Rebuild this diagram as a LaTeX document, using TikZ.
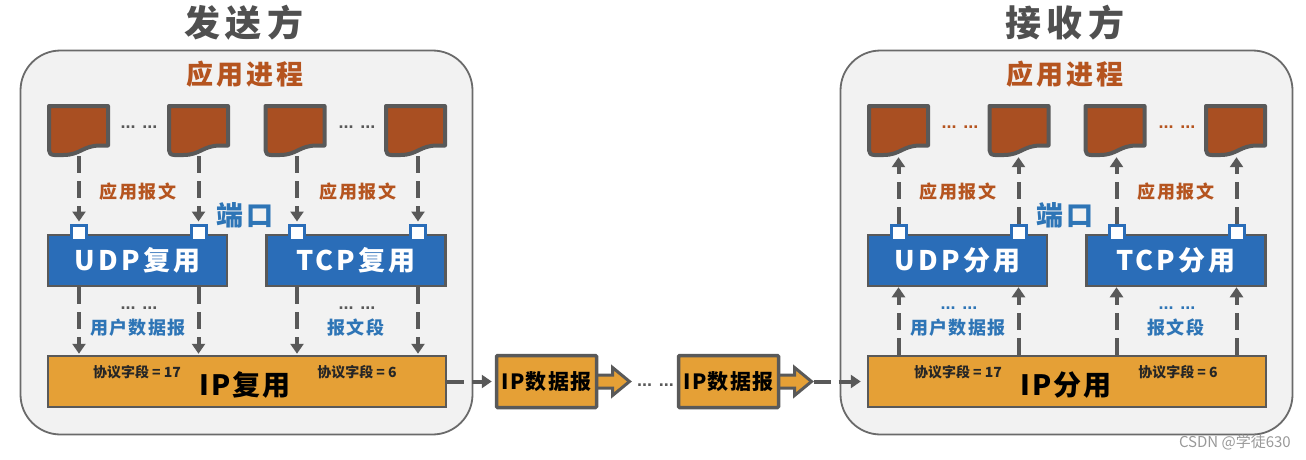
\documentclass[tikz,border=0pt]{standalone}
\usepackage{fontspec}
\usetikzlibrary{arrows.meta}
\newfontfamily\cjk{Noto Sans CJK SC}
\newfontfamily\dotsfont{Liberation Sans}
\newcommand{\txs}[2]{\cjk\bfseries\fontsize{#1}{#1}\selectfont\addfontfeature{LetterSpace=#2}}
\definecolor{panelfill}{HTML}{F2F2F2}
\definecolor{edgegray}{HTML}{6A6A6A}
\definecolor{darkedge}{HTML}{595959}
\definecolor{docfill}{HTML}{A94F22}
\definecolor{bluefill}{HTML}{2A6DB8}
\definecolor{orangefill}{HTML}{E5A036}
\definecolor{brownText}{HTML}{B5541F}
\definecolor{blueText}{HTML}{2E75B6}
\definecolor{titleText}{HTML}{505050}
\tikzset{
  panel/.style={draw=edgegray,fill=panelfill,line width=1.8pt,rounded corners=40pt,minimum width=452pt,minimum height=384pt,inner sep=0pt},
  docbox/.style={minimum width=63pt,minimum height=52pt,inner sep=0pt},
  docshape/.style={draw=darkedge,fill=docfill,line width=4pt,line join=round},
  bluebox/.style={draw=darkedge,fill=bluefill,line width=2.5pt,minimum width=179pt,minimum height=51pt,inner sep=0pt,text=white,font=\txs{27}{11.5}},
  ipbox/.style={draw=darkedge,fill=orangefill,line width=2.5pt,minimum width=398pt,minimum height=51pt,inner sep=0pt},
  portbox/.style={draw=bluefill,fill=white,line width=3pt,minimum width=15pt,minimum height=15pt,inner sep=0pt},
  pktbox/.style={draw=darkedge,fill=orangefill,line width=3.5pt,rounded corners=1pt,minimum width=100pt,minimum height=52pt,inner sep=0pt,text=black,font=\txs{21}{6}},
  pktarrow/.style={draw=darkedge,fill=orangefill,line width=3pt,line join=miter},
  conn/.style={draw=darkedge,line width=4pt,dash pattern=on 17pt off 8pt,-{Triangle[width=13pt,length=10pt]}},
  titletext/.style={text=titleText,font=\txs{36}{14}},
  proctext/.style={text=brownText,font=\txs{27}{12}},
  brownlabel/.style={text=brownText,font=\txs{18}{8}},
  bluelabel/.style={text=blueText,font=\txs{18}{8}},
  portlabel/.style={text=blueText,font=\txs{27}{8}},
  iptext/.style={text=black,font=\txs{28}{8}},
  fieldtext/.style={text=black!85,font=\txs{14}{0}},
  dotlabel/.style={anchor=base,inner sep=0pt,font=\dotsfont\bfseries\fontsize{18}{18}\selectfont},
  wmark/.style={text=gray!80,font=\cjk\fontsize{15}{15}\selectfont},
}
\begin{document}
\begin{tikzpicture}[x=1pt,y=-1pt]
\useasboundingbox (0,0) rectangle (1306,460);
% panels
\node[panel] (panelL) at (246.5,242.5) {};
\node[panel] (panelR) at (1066.5,242.5) {};
\node[titletext] (titleL) at (244,23) {发送方};
\node[titletext] (titleR) at (1065,23) {接收方};
\node[proctext] (procL) at (245,74.5) {应用进程};
\node[proctext] (procR) at (1065,74.5) {应用进程};
% documents
\foreach \n/\px in {d1/78.5,d2/198.5,d3/295,d4/415.5,e1/898.5,e2/1019,e3/1115,e4/1235.5}{
  \node[docbox] (\n) at (\px,130) {};
  \begin{scope}[shift={(\n.center)}]
    \path[docshape] (-29.5,-24) -- (29.5,-24) -- (29.5,15.5) -- (22,15.5) .. controls (4,15.5) and (2,25) .. (-15,25) -- (-24,25) .. controls (-28,25) and (-29.5,23) .. (-29.5,20) -- cycle;
  \end{scope}
}
% blue boxes
\node[bluebox] (udpL) at (137.5,260.5) {UDP复用\hspace{4pt}};
\node[bluebox] (tcpL) at (356,260.5) {TCP复用\hspace{4pt}};
\node[bluebox] (udpR) at (957.5,260.5) {UDP分用\hspace{4pt}};
\node[bluebox] (tcpR) at (1176,260.5) {TCP分用\hspace{4pt}};
% IP boxes
\node[ipbox] (ipL) at (247,381.5) {};
\node[ipbox] (ipR) at (1067,381.5) {};
% ports
\foreach \n/\px in {p1/79,p2/198.5,p3/297,p4/418,q1/898.5,q2/1018.5,q3/1116.5,q4/1236.5}{
  \node[portbox] (\n) at (\px,232.5) {};
}
% upper connectors
\foreach \p/\d in {p1/d1,p2/d2,p3/d3,p4/d4}{
  \draw[conn,shorten >=2pt] (\p.north |- \d.south) -- (\p.north);
}
\foreach \p/\d in {q1/e1,q2/e2,q3/e3,q4/e4}{
  \draw[conn,shorten >=1pt] (\p.north) -- (\p.north |- \d.south);
}
% lower connectors
\foreach \p/\b in {p1/udpL,p2/udpL,p3/tcpL,p4/tcpL}{
  \draw[conn,shorten >=1pt] (\p.north |- \b.south) -- (\p.north |- ipL.north);
}
\foreach \p/\b in {q1/udpR,q2/udpR,q3/tcpR,q4/tcpR}{
  \draw[conn] (\p.north |- ipR.north) -- (\p.north |- \b.south);
}
% labels
\node[brownlabel] (la1) at (138,192) {应用报文};
\node[brownlabel] (la2) at (358,192) {应用报文};
\node[brownlabel] (la3) at (958,192) {应用报文};
\node[brownlabel] (la4) at (1176,192) {应用报文};
\node[portlabel] (po1) at (245,215) {端口};
\node[portlabel] (po2) at (1065,215) {端口};
\node[bluelabel] (lb1) at (138,328) {用户数据报};
\node[bluelabel] (lb2) at (356,328) {报文段};
\node[bluelabel] (lb3) at (958,328) {用户数据报};
\node[bluelabel] (lb4) at (1176,328) {报文段};
\node[fieldtext] (f1) at (137,372) {协议字段 = 17};
\node[fieldtext] (f2) at (357,372) {协议字段 = 6};
\node[fieldtext] (f3) at (958,372) {协议字段 = 17};
\node[fieldtext] (f4) at (1178,372) {协议字段 = 6};
\node[iptext] (it1) at (245,385) {IP复用};
\node[iptext] (it2) at (1066,385) {IP分用};
% dots
\node[dotlabel,text=darkedge] (g1) at (139,128) {... ...};
\node[dotlabel,text=darkedge] (g2) at (357,128) {... ...};
\node[dotlabel,text=brownText] (g3) at (960,128) {... ...};
\node[dotlabel,text=brownText] (g4) at (1177,128) {... ...};
\node[dotlabel,text=darkedge] (g5) at (139,309) {... ...};
\node[dotlabel,text=darkedge] (g6) at (357,309) {... ...};
\node[dotlabel,text=blueText] (g7) at (959,309) {... ...};
\node[dotlabel,text=blueText] (g8) at (1177,309) {... ...};
\node[dotlabel,text=darkedge] (g9) at (655.5,386) {... ...};
% packets
\foreach \n/\px in {k1/546.5,k2/728.5}{
  \begin{scope}[shift={(\px,381.5)}]
    \path[pktarrow] (45,-6.5) -- (66,-6.5) -- (66,-14) -- (83,0) -- (66,14) -- (66,6.5) -- (45,6.5) -- cycle;
    \coordinate (\n tip) at (85,0);
  \end{scope}
  \node[pktbox] (\n) at (\px,381.5) {IP数据报};
}
% between-system connectors
\draw[conn,shorten >=3pt] (ipL.east) -- (k1.west);
\draw[conn,shorten >=6pt] (k2tip) -- (ipR.west);
% watermark
\node[wmark,anchor=east,inner sep=0pt] (wm) at (1291,442) {CSDN @学徒630};
\end{tikzpicture}
\end{document}
